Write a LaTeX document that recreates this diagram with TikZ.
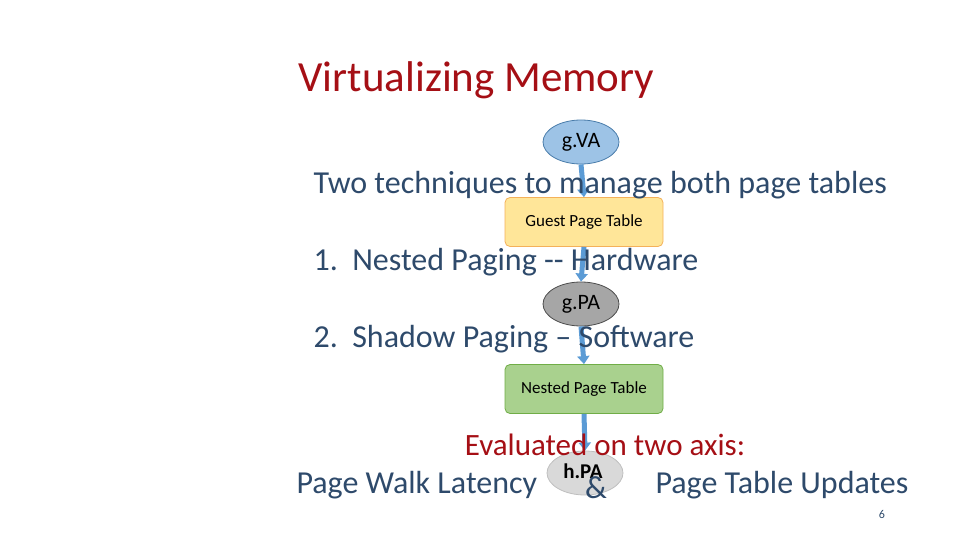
\documentclass[tikz,border=0pt]{standalone}
\usepackage{fontspec}
\setmainfont{Carlito}
\usetikzlibrary{shapes.geometric,arrows.meta}
\definecolor{tred}{HTML}{A50F15}
\definecolor{tblue}{HTML}{2E4A6B}
\definecolor{arr}{HTML}{5B9BD5}
\begin{document}
\begin{tikzpicture}[x=1pt,y=-1pt,
  ell/.style={ellipse,draw,line width=0.8pt,minimum width=76pt,minimum height=44pt,inner sep=0pt,font=\fontsize{22}{22}\selectfont},
  tbox/.style={rectangle,rounded corners=5pt,draw,line width=0.8pt,minimum width=158pt,minimum height=49pt,font=\fontsize{17}{17}\selectfont},
  barr/.style={draw=arr,line width=5pt,-{Triangle[length=8pt,width=12pt]}},
  body/.style={anchor=west,text=tblue,font=\fontsize{32}{32}\selectfont}]
\useasboundingbox (0,0) rectangle (960,540);
\node (title) [anchor=west,text=tred,font=\fontsize{43}{43}\selectfont] at (295,80) {Virtualizing Memory};
\node (va) [ell,fill=arr!60!white,draw=arr!80!black] at (581,142) {g.VA};
\node (gpt) [tbox,fill={rgb,255:red,255;green,230;blue,153},draw={rgb,255:red,244;green,177;blue,90}] at (584,222) {Guest Page Table};
\node (gpa) [ell,fill=gray!70,draw=black!70] at (581,304) {g.PA};
\node (npt) [tbox,fill={rgb,255:red,169;green,209;blue,142},draw={rgb,255:red,112;green,173;blue,71}] at (584,389) {Nested Page Table};
\node (hpa) [ell,fill=gray!30,draw=gray!50] at (585,473) {};
\draw[barr] (va.south) -- (gpt.north);
\draw[barr] (gpt.south) -- (gpa.north);
\draw[barr] (gpa.south) -- (npt.north);
\draw[barr] (npt.south) -- (hpa.north);
\node (t1) [body] at (310,185) {Two techniques to manage both page tables};
\node (t2) [body] at (310,262) {1.\ \ Nested Paging -{}- Hardware};
\node (t3) [body] at (310,339) {2.\ \ Shadow Paging – Software};
\node (ev) [text=tred,font=\fontsize{31}{31}\selectfont] at (605,445) {Evaluated on two axis:};
\node (hl) [font=\fontsize{21}{21}\selectfont\bfseries] at (583,471) {h.PA};
\node (pw) [body] at (293,485) {Page Walk Latency};
\node (amp) [text=tblue,font=\fontsize{32}{32}\selectfont] at (596,488) {\&};
\node (pt) [body] at (652,485) {Page Table Updates};
\node (pg) [text=tblue,font=\fontsize{12}{12}\selectfont] at (882,514) {6};
\end{tikzpicture}
\end{document}
